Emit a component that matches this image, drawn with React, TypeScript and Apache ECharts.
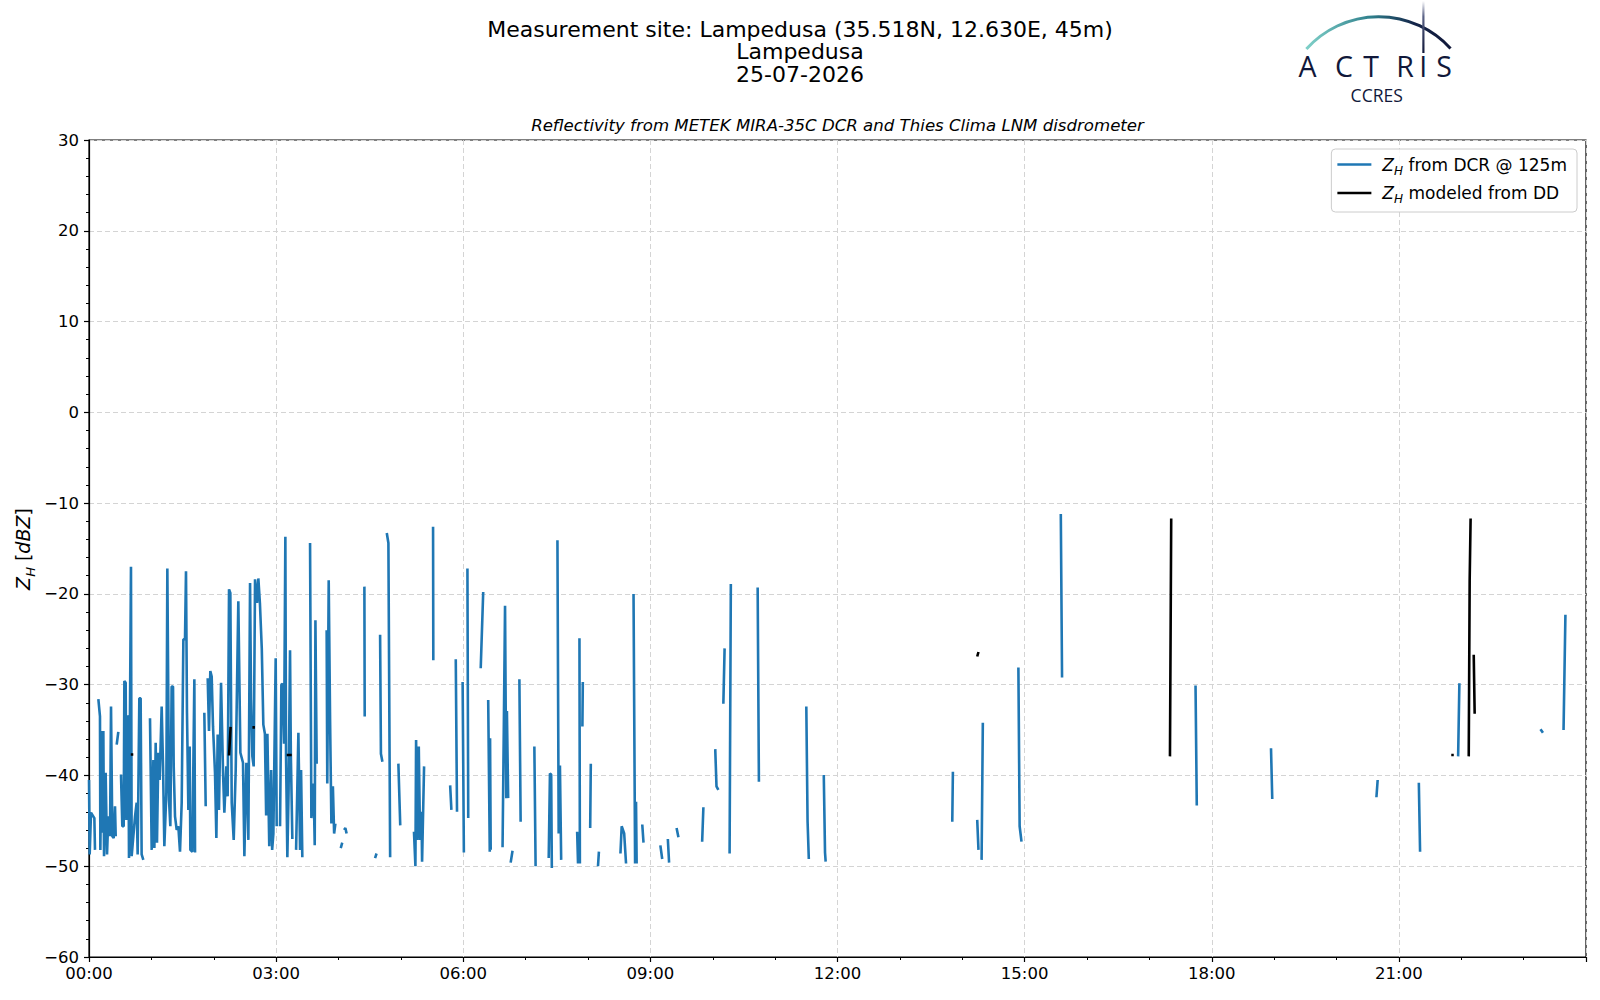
import React, { useEffect, useRef } from "react";
import * as echarts from "echarts";

type Pt = [number, number];

// time in hours (UTC), reflectivity in dBZ
const dcrNight: Pt[][] = [
  [[0, -40.5], [0.011, -48.7], [0.032, -44.1], [0.086, -44.7], [0.096, -48.2]],
  [[0.15, -31.6], [0.176, -33.5], [0.182, -48.2], [0.203, -35.1], [0.214, -46.3], [0.23, -35.1], [0.241, -48.9], [0.267, -39.7], [0.289, -48.7], [0.31, -44.5], [0.337, -46.7], [0.353, -32.4], [0.374, -46.7], [0.396, -46.9], [0.417, -43.4], [0.428, -46.7]],
  [[0.444, -36.6], [0.47, -35.2]],
  [[0.513, -39.9], [0.534, -45.6], [0.556, -45.6], [0.567, -29.6], [0.588, -29.8], [0.599, -44.9], [0.609, -33.5], [0.631, -33.5], [0.641, -49.1], [0.673, -17.0], [0.684, -48.9], [0.738, -44.5], [0.764, -43.0], [0.78, -48.7], [0.807, -31.5], [0.828, -31.5], [0.844, -48.7], [0.871, -49.3]],
  [[0.978, -33.7], [1.005, -48.2], [1.032, -38.3], [1.048, -48.0], [1.069, -36.4], [1.09, -47.4], [1.112, -37.5], [1.133, -40.5], [1.165, -32.4], [1.187, -39.0], [1.208, -47.8], [1.24, -41.9], [1.256, -17.2], [1.283, -42.7], [1.304, -45.6], [1.325, -30.2], [1.347, -30.2], [1.358, -39.0], [1.379, -44.5], [1.406, -46.0], [1.432, -45.6], [1.459, -48.4], [1.486, -43.0], [1.513, -25.0], [1.539, -25.0], [1.555, -17.5], [1.571, -33.1], [1.593, -43.8], [1.614, -36.8], [1.625, -48.2], [1.657, -48.4], [1.689, -29.4], [1.7, -48.5]],
  [[1.849, -33.1], [1.871, -43.4]],
  [[1.903, -29.3], [1.924, -35.1], [1.945, -28.5], [1.967, -29.1], [1.988, -34.6], [2.02, -39.7], [2.042, -46.9], [2.063, -35.5], [2.084, -43.8], [2.117, -29.8], [2.149, -39.7], [2.17, -44.1], [2.202, -39.0], [2.223, -42.3], [2.245, -19.5], [2.266, -19.9], [2.288, -43.0], [2.32, -47.1], [2.352, -39.4], [2.394, -20.8], [2.427, -37.5], [2.469, -38.6], [2.491, -48.9], [2.523, -38.6], [2.544, -43.0], [2.555, -47.1], [2.582, -18.8], [2.598, -31.6], [2.619, -37.9], [2.64, -39.0], [2.662, -18.4], [2.694, -21.0], [2.715, -18.3], [2.74, -21.0], [2.77, -26.0], [2.795, -34.4], [2.82, -35.4], [2.84, -44.4], [2.86, -35.4], [2.89, -47.8], [2.92, -39.4], [2.936, -48.2], [2.956, -46.4], [2.993, -27.1], [3.009, -45.6]],
];

const dcrMorning: Pt[][] = [
  [[3.063, -45.6], [3.084, -30.0], [3.105, -29.9], [3.127, -36.5], [3.148, -13.7], [3.159, -37.9], [3.18, -49.0], [3.2, -41.6], [3.223, -26.2], [3.236, -37.7], [3.26, -47.0]],
  [[3.32, -48.2], [3.357, -35.3], [3.384, -48.2], [3.4, -39.4], [3.42, -49.0]],
  [[3.544, -14.4], [3.565, -44.7], [3.6, -40.9], [3.619, -47.7], [3.63, -22.9], [3.65, -38.7]],
  [[3.81, -24.0], [3.82, -40.9], [3.843, -18.5], [3.865, -33.9], [3.886, -45.3], [3.91, -41.2], [3.93, -46.4], [3.95, -45.3]],
  [[4.036, -48.0], [4.06, -47.4]],
  [[4.09, -46.0], [4.11, -45.8], [4.13, -46.4]],
  [[4.415, -19.2], [4.42, -33.5]],
  [[4.586, -49.1], [4.61, -48.6]],
  [[4.667, -24.5], [4.68, -37.6], [4.704, -38.5]],
  [[4.774, -13.3], [4.8, -14.4], [4.828, -49.0]],
  [[4.96, -38.7], [4.99, -45.5]],
  [[5.21, -46.2], [5.233, -50.0], [5.244, -36.1], [5.265, -47.1], [5.287, -36.8], [5.308, -47.1], [5.33, -44.0], [5.34, -49.5], [5.372, -39.0]],
  [[5.516, -12.6], [5.52, -27.3]],
  [[5.79, -41.1], [5.81, -43.8]],
  [[5.88, -27.2], [5.9, -44.0]],
  [[5.99, -29.7], [6.01, -48.5]],
];

const dcrDay: Pt[][] = [
  [[6.067, -17.2], [6.08, -44.7]],
  [[6.28, -28.2], [6.32, -19.8]],
  [[6.4, -31.7], [6.425, -48.4], [6.43, -35.9], [6.44, -48.2]],
  [[6.63, -47.9], [6.65, -35.0], [6.67, -21.3], [6.69, -42.5], [6.7, -32.9], [6.72, -42.5]],
  [[6.76, -49.6], [6.79, -48.3]],
  [[6.9, -29.4], [6.92, -45.1]],
  [[7.14, -36.8], [7.16, -50.0]],
  [[7.37, -49.1], [7.39, -39.8], [7.41, -39.9], [7.42, -50.2]],
  [[7.51, -14.1], [7.53, -46.4], [7.55, -38.9], [7.57, -49.3]],
  [[7.826, -46.2], [7.84, -49.7]],
  [[7.863, -24.9], [7.87, -49.7]],
  [[7.917, -29.7], [7.91, -34.6]],
  [[8.045, -38.7], [8.035, -45.8]],
  [[8.16, -50.0], [8.175, -48.4]],
  [[8.52, -48.6], [8.54, -45.6], [8.58, -46.4], [8.61, -49.7]],
  [[8.73, -20.0], [8.755, -49.7], [8.77, -42.9], [8.78, -49.7]],
  [[8.87, -45.4], [8.89, -47.4]],
  [[9.16, -47.7], [9.19, -49.2]],
  [[9.28, -47.0], [9.3, -49.6]],
  [[9.42, -45.8], [9.45, -46.8]],
  [[9.83, -47.3], [9.85, -43.5]],
  [[10.04, -37.1], [10.06, -41.2], [10.09, -41.6]],
  [[10.17, -32.1], [10.19, -26.0]],
  [[10.27, -48.6], [10.29, -18.9]],
  [[10.72, -19.3], [10.74, -40.7]],
  [[11.5, -32.4], [11.52, -45.0], [11.54, -49.2]],
  [[11.78, -39.95], [11.8, -48.5], [11.81, -49.5]],
];

const dcrEvening: Pt[][] = [
  [[13.85, -39.6], [13.84, -45.1]],
  [[14.24, -44.9], [14.26, -48.2]],
  [[14.33, -34.2], [14.31, -49.3]],
  [[14.9, -28.1], [14.92, -45.6], [14.95, -47.3]],
  [[15.58, -11.2], [15.6, -29.2]],
  [[17.74, -30.1], [17.76, -43.3]],
  [[18.95, -37.0], [18.97, -42.6]],
  [[20.66, -40.5], [20.64, -42.4]],
  [[21.32, -40.8], [21.34, -48.4]],
  [[21.97, -29.85], [21.95, -37.9]],
  [[23.27, -34.9], [23.31, -35.3]],
  [[23.67, -22.3], [23.64, -35.0]],
];

const ddSegments: Pt[][] = [
  [[0.67, -37.7], [0.71, -37.7]],
  [[2.245, -37.8], [2.27, -34.65]],
  [[2.62, -34.7], [2.66, -34.7]],
  [[3.17, -37.75], [3.25, -37.75]],
  [[14.24, -26.9], [14.26, -26.4]],
  [[17.33, -37.9], [17.35, -11.7]],
  [[21.84, -37.75], [21.88, -37.75]],
  [[22.12, -37.9], [22.135, -18.5], [22.15, -11.7]],
  [[22.2, -26.7], [22.215, -33.2]],
];

const titleLines = [
  "Measurement site: Lampedusa (35.518N, 12.630E, 45m)",
  "Lampedusa",
  "25-07-2026",
];
const subtitle = "Reflectivity from METEK MIRA-35C DCR and Thies Clima LNM disdrometer";
const seriesNames = ["dcr", "dd"];
const legendLabels: Record<string, string> = {
  dcr: "{i|Z}{s|H}{t| from DCR @ 125m}",
  dd: "{i|Z}{s|H}{t| modeled from DD}",
};

function flatten(segs: Pt[][]): (Pt | null)[] {
  const out: (Pt | null)[] = [];
  segs.forEach((s, i) => {
    if (i > 0) out.push(null);
    s.forEach((p) => out.push(p));
  });
  return out;
}

const FONT = "DejaVu Sans";
const NAVY = "#11183a";

export default function App() {
  const ref = useRef<HTMLDivElement>(null);
  useEffect(() => {
    if (!ref.current) return;
    const chart = echarts.init(ref.current, undefined, { renderer: "svg" });
    const dcrData = flatten([...dcrNight, ...dcrMorning, ...dcrDay, ...dcrEvening]);
    const ddData = flatten(ddSegments);

    const arcGrad = new echarts.graphic.LinearGradient(0, 0, 1, 0, [
      { offset: 0, color: "#7fd0c8" },
      { offset: 0.45, color: "#2f7f8c" },
      { offset: 0.75, color: "#142448" },
      { offset: 1, color: NAVY },
    ]);
    const barGrad = new echarts.graphic.LinearGradient(0, 0, 0, 1, [
      { offset: 0, color: "#ffffff" },
      { offset: 0.3, color: "#5a6286" },
      { offset: 1, color: NAVY },
    ]);

    const letters: [string, number][] = [
      ["A", 1307.5],
      ["C", 1344],
      ["T", 1371],
      ["R", 1405],
      ["I", 1423.3],
      ["S", 1444],
    ];

    const richLegend = {
      i: { fontFamily: FONT, fontStyle: "italic", fontSize: 17, color: "#000", verticalAlign: "middle", lineHeight: 22 },
      s: { fontFamily: FONT, fontStyle: "italic", fontSize: 12, color: "#000", verticalAlign: "bottom", lineHeight: 22, padding: [0, 0, -1, 0] },
      t: { fontFamily: FONT, fontSize: 17, color: "#000", verticalAlign: "middle", lineHeight: 22 },
    };

    chart.setOption({
      animation: false,
      grid: {
        left: 89,
        right: 14,
        top: 140,
        bottom: 43,
        show: true,
        borderColor: "#000",
        borderWidth: 1.2,
        backgroundColor: "transparent",
      },
      xAxis: {
        type: "value",
        min: 0,
        max: 24,
        interval: 3,
        axisLine: { show: true, onZero: false, lineStyle: { color: "#000", width: 1.2 } },
        axisTick: { show: true, inside: false, length: 5, lineStyle: { color: "#000", width: 1.2 } },
        minorTick: { show: true, splitNumber: 3, length: 3, lineStyle: { color: "#000", width: 1 } },
        axisLabel: {
          showMaxLabel: false,
          margin: 8,
          fontFamily: FONT,
          fontSize: 16.5,
          color: "#000",
          formatter: (v: number) => String(v).padStart(2, "0") + ":00",
        },
        splitLine: { show: true, lineStyle: { color: "#d4d4d4", type: [5, 3], width: 1 } },
      },
      yAxis: {
        type: "value",
        min: -60,
        max: 30,
        interval: 10,
        axisLine: { show: true, onZero: false, lineStyle: { color: "#000", width: 1.2 } },
        axisTick: { show: true, inside: false, length: 5, lineStyle: { color: "#000", width: 1.2 } },
        minorTick: { show: true, splitNumber: 5, length: 3, lineStyle: { color: "#000", width: 1 } },
        axisLabel: {
          margin: 10,
          fontFamily: FONT,
          fontSize: 16.5,
          color: "#000",
          formatter: (v: number) => String(v).replace("-", "\u2212"),
        },
        splitLine: { show: true, lineStyle: { color: "#d4d4d4", type: [5, 3], width: 1 } },
      },
      legend: {
        orient: "vertical",
        right: 23,
        top: 149,
        data: seriesNames,
        icon: "rect",
        itemWidth: 34,
        itemHeight: 2.5,
        itemGap: 8,
        padding: [7, 10, 7, 6],
        backgroundColor: "rgba(255,255,255,0.85)",
        borderColor: "#cccccc",
        borderWidth: 1,
        borderRadius: 4,
        formatter: (name: string) => legendLabels[name],
        textStyle: { fontFamily: FONT, fontSize: 17, color: "#000", padding: [0, 0, 0, 6], rich: richLegend },
      },
      series: [
        {
          name: "dcr",
          type: "line",
          data: dcrData,
          showSymbol: false,
          connectNulls: false,
          lineStyle: { color: "#1f77b4", width: 2.6 },
          itemStyle: { color: "#1f77b4" },
          z: 2,
        },
        {
          name: "dd",
          type: "line",
          data: ddData,
          showSymbol: false,
          connectNulls: false,
          lineStyle: { color: "#000000", width: 2.6 },
          itemStyle: { color: "#000000" },
          z: 3,
        },
      ],
      graphic: [
        ...titleLines.map((t, i) => ({
          type: "text",
          x: 800,
          y: 29 + i * 22.8,
          style: { text: t, fontFamily: FONT, fontSize: 22, lineHeight: 22, fill: "#000", align: "center", verticalAlign: "middle" },
        })),
        {
          type: "text",
          x: 837.5,
          y: 125.5,
          style: { text: subtitle, fontFamily: FONT, fontSize: 16.6, fontStyle: "italic", fill: "#000", align: "center", verticalAlign: "middle" },
        },
        {
          type: "text",
          x: 23,
          y: 549,
          rotation: Math.PI / 2,
          style: {
            text: "{i|Z}{s|H}{t| [}{i|dBZ}{t|]}",
            align: "center",
            verticalAlign: "middle",
            rich: {
              i: { fontFamily: FONT, fontStyle: "italic", fontSize: 19, fill: "#000", verticalAlign: "middle", lineHeight: 24 },
              s: { fontFamily: FONT, fontStyle: "italic", fontSize: 13, fill: "#000", verticalAlign: "bottom", lineHeight: 24, padding: [0, 0, -2, 0] },
              t: { fontFamily: FONT, fontSize: 19, fill: "#000", verticalAlign: "middle", lineHeight: 24 },
            },
          },
        },
        // ACTRIS logo
        {
          type: "arc",
          shape: { cx: 1378.7, cy: 113.7, r: 97, startAngle: -2.412, endAngle: -0.737, clockwise: true },
          style: { stroke: arcGrad, lineWidth: 3, fill: "none" },
        },
        {
          type: "rect",
          shape: { x: 1422.3, y: 1, width: 2.2, height: 52 },
          style: { fill: barGrad },
        },
        ...letters.map(([ch, x]) => ({
          type: "text",
          x,
          y: 66,
          style: { text: ch, fontFamily: "Open Sans", fontSize: 28.5, fontWeight: 500, lineHeight: 20, fill: NAVY, align: "center", verticalAlign: "middle" },
        })),
        {
          type: "text",
          x: 1376.7,
          y: 95,
          style: { text: "CCRES", fontFamily: "Open Sans", fontSize: 17.5, lineHeight: 14, fill: NAVY, align: "center", verticalAlign: "middle" },
        },
      ],
    });
    return () => chart.dispose();
  }, []);
  return (
    <div
      ref={ref}
      style={{ position: "fixed", left: 0, top: 0, width: 1600, height: 1000, background: "#fff" }}
    />
  );
}
